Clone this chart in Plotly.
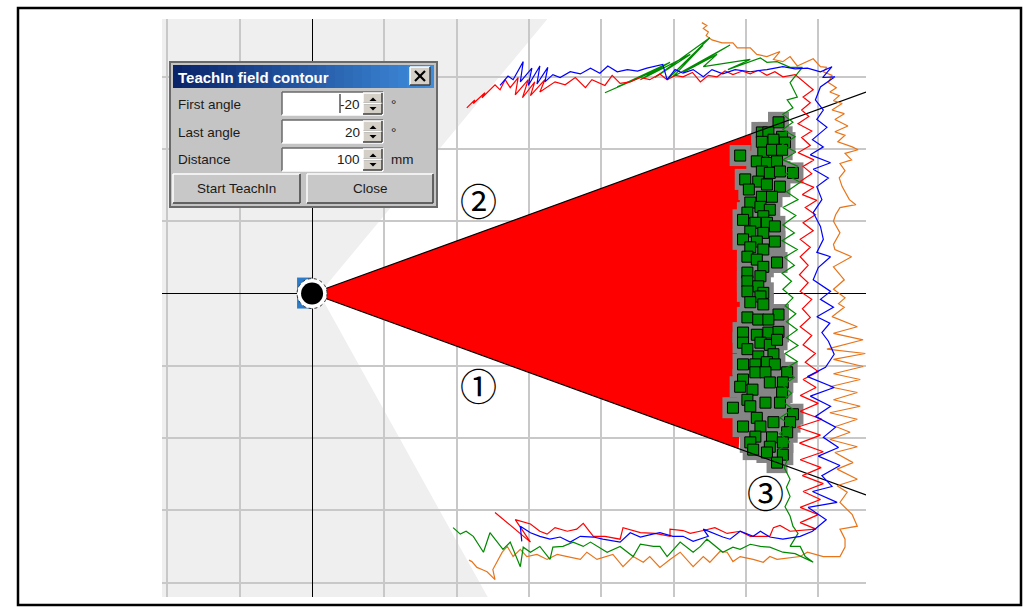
import math
import plotly.graph_objects as go

# ------------------------------------------------------------------
# DATA  (grid units: one grid cell = 1.0, scanner at the origin)
# ------------------------------------------------------------------
X_RANGE = [-2.075, 7.66]
Y_RANGE = [-4.2, 3.8]
GRID_STEP = 1.0

FIELD_APEX = (0.1, 0.0)            # apex of the scanner's field of view
FIELD_LIMITS_DEG = [50.3, -61.0]   # upper / lower limit of the field of view
TEACH_RAYS_DEG = [20.0, -20.0]     # first / last angle of the TeachIn
TEACH_DEPTH = [6.09, 6.0, 5.9]     # depth of the red field at +20, 0, -20 deg

RED_PTS = [
    (2.14, 2.57), (2.25, 2.68), (2.23, 2.63), (2.39, 2.78), (2.35, 2.71), (2.53, 2.89),
    (2.60, 2.82), (2.67, 2.96), (2.74, 2.85), (2.85, 2.99), (2.81, 2.75), (2.99, 2.96),
    (2.91, 2.71), (3.08, 2.93), (3.02, 2.74), (3.22, 2.96), (3.15, 2.79), (3.36, 2.93),
    (3.50, 2.89), (3.64, 2.99), (3.78, 2.85), (3.87, 2.96), (4.05, 2.88), (4.15, 3.02),
    (4.26, 2.91), (4.40, 2.93), (4.54, 2.99), (4.67, 2.96), (4.81, 3.04), (4.91, 2.96),
    (5.02, 3.02), (5.13, 3.00), (5.26, 3.06), (5.37, 2.93), (5.48, 3.02), (5.60, 3.00),
    (5.71, 3.08), (5.82, 3.03), (5.95, 3.08), (6.06, 3.04), (6.17, 3.09), (6.29, 3.02),
    (6.40, 3.07), (6.51, 3.00), (6.68, 3.03),
    (6.93, 2.82), (6.79, 2.72), (6.89, 2.64), (6.77, 2.54), (6.87, 2.45), (6.72, 2.35),
    (6.91, 2.25), (6.77, 2.16), (6.89, 2.05), (6.72, 1.95), (6.94, 1.85), (6.79, 1.76),
    (6.91, 1.66), (6.75, 1.55), (6.94, 1.47), (6.78, 1.37), (6.98, 1.29), (6.82, 1.19),
    (6.96, 1.09), (6.79, 0.98), (6.93, 0.87), (6.75, 0.75), (6.89, 0.64), (6.75, 0.51),
    (6.86, 0.39), (6.74, 0.26), (6.86, 0.15), (6.75, 0.03), (6.91, -0.08), (6.78, -0.21),
    (6.89, -0.33), (6.75, -0.46), (6.91, -0.58), (6.79, -0.71), (6.96, -0.83), (6.82, -0.95),
    (7.00, -1.08), (6.79, -1.19), (6.97, -1.30), (6.75, -1.41), (7.00, -1.52), (6.75, -1.63),
    (7.05, -1.74), (6.71, -1.85), (7.03, -1.96), (6.74, -2.07), (7.07, -2.19), (6.75, -2.30),
    (7.04, -2.41), (6.78, -2.52), (7.07, -2.63), (6.79, -2.74), (7.03, -2.85), (6.75, -2.96),
    (7.00, -3.06), (6.75, -3.17), (6.97, -3.26),
    (6.61, -3.29), (6.47, -3.21), (6.38, -3.24), (6.33, -3.36), (6.06, -3.36), (5.92, -3.29),
    (5.74, -3.32), (5.57, -3.24), (5.41, -3.28), (5.23, -3.32), (5.13, -3.28), (4.95, -3.26),
    (4.95, -3.36), (4.74, -3.32), (4.54, -3.31), (4.30, -3.24), (4.26, -3.40), (4.05, -3.36),
    (3.89, -3.36), (3.75, -3.18), (3.66, -3.26), (3.53, -3.29), (3.36, -3.24), (3.25, -3.33),
    (3.15, -3.29), (3.02, -3.19), (2.81, -3.13), (3.02, -3.44), (2.53, -3.03),
]

BLUE_PTS = [
    (2.60, 2.88), (2.71, 3.01), (2.78, 2.96), (2.92, 3.21), (2.88, 2.93), (3.04, 3.12),
    (2.99, 2.88), (3.15, 3.15), (3.11, 2.90), (3.26, 3.13), (3.22, 2.93), (3.33, 3.03),
    (3.43, 2.99), (3.57, 3.07), (3.71, 3.04), (3.85, 3.12), (3.98, 3.05), (4.09, 3.15),
    (4.22, 3.07), (4.36, 3.10), (4.50, 3.08), (4.63, 3.12), (4.85, 3.17), (4.91, 2.96),
    (5.02, 3.10), (5.13, 3.05), (5.27, 3.10), (5.41, 3.00), (5.53, 3.10), (5.68, 3.04),
    (5.85, 3.10), (6.06, 3.07), (6.29, 3.10), (6.51, 3.14), (6.68, 3.11), (6.85, 3.12),
    (7.03, 3.07), (7.19, 3.14), (7.06, 2.99), (7.23, 3.00),
    (7.03, 2.86), (6.96, 2.68), (7.07, 2.54), (6.98, 2.41), (7.12, 2.30), (6.92, 2.13),
    (7.07, 2.03), (6.89, 1.92), (7.17, 1.81), (6.93, 1.72), (7.14, 1.60), (6.98, 1.48),
    (7.05, 1.30), (6.93, 1.12), (7.03, 0.93), (7.07, 0.75), (6.98, 0.57), (7.17, 0.51),
    (7.00, 0.36), (6.93, 0.19), (7.17, 0.03), (7.03, -0.08), (7.21, -0.19), (6.98, -0.32),
    (7.16, -0.41), (7.05, -0.54), (7.14, -0.66), (7.22, -0.84), (7.10, -1.02), (6.85, -1.15),
    (7.22, -1.30), (6.89, -1.42), (7.17, -1.56), (6.96, -1.70), (7.24, -1.85), (7.07, -1.99),
    (7.28, -2.13), (7.00, -2.25), (7.30, -2.38), (7.05, -2.52), (7.19, -2.67), (6.92, -2.74),
    (7.26, -2.89), (6.86, -2.96), (7.11, -3.13), (6.92, -3.29), (6.75, -3.36),
    (6.51, -3.40), (6.33, -3.37), (6.20, -3.29), (6.10, -3.36), (5.92, -3.29), (5.78, -3.40),
    (5.68, -3.37), (5.41, -3.26), (5.48, -3.36), (5.27, -3.43), (5.13, -3.36), (4.99, -3.36),
    (4.81, -3.31), (4.71, -3.33), (4.54, -3.37), (4.40, -3.31), (4.26, -3.44), (4.02, -3.40),
    (3.89, -3.37), (3.71, -3.36), (3.57, -3.44), (3.43, -3.37), (3.29, -3.40), (3.15, -3.36),
    (3.02, -3.31), (2.88, -3.22), (2.90, -3.43),
]

GREEN_PTS = [
    (4.05, 2.78), (4.85, 3.13), (4.22, 2.86), (4.95, 3.20), (4.54, 2.96), (5.23, 3.31),
    (4.74, 2.99), (5.50, 3.54), (4.91, 2.96), (5.41, 3.44), (4.99, 3.00), (5.78, 3.44),
    (5.13, 3.06), (5.60, 3.31), (5.41, 3.14), (6.06, 3.24), (5.75, 3.10), (6.20, 3.26),
    (6.29, 3.20), (6.43, 3.21), (6.61, 3.13), (6.78, 3.13),
    (6.61, 2.92), (6.71, 2.72), (6.57, 2.68), (6.65, 2.57), (6.51, 2.48), (6.65, 2.37),
    (6.51, 2.27), (6.68, 2.17), (6.50, 2.06), (6.69, 1.96), (6.51, 1.85), (6.72, 1.76),
    (6.54, 1.65), (6.75, 1.54), (6.56, 1.41), (6.72, 1.30), (6.51, 1.19), (6.69, 1.08),
    (6.51, 0.95), (6.67, 0.84), (6.50, 0.73), (6.71, 0.61), (6.53, 0.50), (6.67, 0.39),
    (6.50, 0.28), (6.63, 0.17), (6.51, 0.06), (6.65, -0.06), (6.54, -0.17), (6.69, -0.28),
    (6.56, -0.39), (6.71, -0.50), (6.56, -0.61), (6.72, -0.72), (6.54, -0.83), (6.71, -0.94),
    (6.53, -1.05), (6.67, -1.16), (6.51, -1.27), (6.63, -1.38), (6.50, -1.49), (6.65, -1.60),
    (6.47, -1.72), (6.63, -1.83), (6.46, -1.94), (6.60, -2.05), (6.46, -2.16), (6.57, -2.30),
    (6.53, -2.41), (6.61, -2.57), (6.56, -2.68), (6.61, -2.81), (6.54, -2.95), (6.61, -3.08),
    (6.65, -3.22), (6.72, -3.32), (6.61, -3.50), (6.75, -3.50), (6.82, -3.64), (6.93, -3.72),
    (6.68, -3.60), (6.51, -3.58), (6.33, -3.51), (6.20, -3.50), (6.06, -3.47), (5.92, -3.54),
    (5.82, -3.51), (5.68, -3.58), (5.46, -3.40), (5.37, -3.50), (5.27, -3.58), (5.09, -3.44),
    (4.91, -3.64), (4.81, -3.50), (4.72, -3.50), (4.54, -3.47), (4.44, -3.64), (4.26, -3.50),
    (4.08, -3.58), (3.85, -3.44), (3.75, -3.50), (3.61, -3.44), (3.47, -3.50), (3.33, -3.51),
    (3.29, -3.68), (3.15, -3.50), (3.02, -3.58), (2.92, -3.51), (2.88, -3.78), (2.74, -3.44),
    (2.64, -3.54), (2.46, -3.31), (2.37, -3.58), (2.23, -3.36), (2.13, -3.29), (2.05, -3.33),
    (1.95, -3.24),
]

ORANGE_PTS = [
    (5.39, 3.75), (5.46, 3.71), (5.41, 3.67), (5.48, 3.62), (5.45, 3.57), (5.53, 3.51),
    (5.67, 3.47), (5.82, 3.47), (5.88, 3.40), (6.06, 3.40), (6.15, 3.31), (6.29, 3.28),
    (6.47, 3.35), (6.38, 3.24), (6.51, 3.21), (6.61, 3.28), (6.71, 3.15), (6.85, 3.21),
    (6.93, 3.25), (7.03, 3.14), (7.12, 3.13), (7.07, 3.07),
    (7.19, 3.02), (7.14, 2.92), (7.25, 2.85), (7.16, 2.79), (7.29, 2.74), (7.21, 2.67),
    (7.33, 2.63), (7.19, 2.54), (7.36, 2.49), (7.23, 2.41), (7.41, 2.32), (7.23, 2.24),
    (7.37, 2.19), (7.27, 2.10), (7.47, 2.03), (7.55, 1.99), (7.37, 1.94), (7.46, 1.85),
    (7.30, 1.80), (7.37, 1.70), (7.29, 1.60), (7.33, 1.48), (7.39, 1.38), (7.43, 1.30),
    (7.52, 1.23), (7.30, 1.19), (7.24, 1.09), (7.21, 1.00), (7.30, 0.84), (7.21, 0.68),
    (7.23, 0.61), (7.46, 0.51), (7.21, 0.37), (7.36, 0.19), (7.21, 0.06), (7.37, -0.06),
    (7.28, -0.14), (7.36, -0.19), (7.19, -0.32), (7.54, -0.46), (7.21, -0.55), (7.62, -0.64),
    (7.12, -0.77), (7.65, -0.83), (7.21, -0.91), (7.62, -1.01), (7.21, -1.11), (7.58, -1.19),
    (7.16, -1.29), (7.54, -1.37), (7.21, -1.47), (7.58, -1.56), (7.16, -1.65), (7.54, -1.74),
    (7.24, -1.84), (7.44, -1.92), (7.16, -2.02), (7.54, -2.12), (7.23, -2.20), (7.48, -2.34),
    (7.26, -2.43), (7.54, -2.57), (7.26, -2.66), (7.40, -2.75), (7.30, -2.89), (7.47, -3.06),
    (7.54, -3.22), (7.30, -3.26), (7.37, -3.40), (7.37, -3.51), (7.30, -3.64), (7.07, -3.64),
    (6.85, -3.58), (6.75, -3.64), (6.43, -3.68), (6.33, -3.64), (6.24, -3.72), (6.10, -3.68),
    (5.92, -3.64), (5.82, -3.71), (5.74, -3.58), (5.64, -3.57), (5.50, -3.72), (5.41, -3.64),
    (5.27, -3.78), (5.09, -3.58), (4.95, -3.68), (4.81, -3.79), (4.67, -3.64), (4.58, -3.72),
    (4.44, -3.64), (4.30, -3.78), (4.16, -3.61), (3.94, -3.68), (3.80, -3.58), (3.71, -3.68),
    (3.53, -3.64), (3.39, -3.61), (3.25, -3.68), (3.11, -3.61), (2.97, -3.64), (2.88, -3.54),
    (2.78, -3.64), (2.70, -3.50), (2.63, -3.58), (2.56, -3.71), (2.50, -3.82), (2.53, -3.96),
    (2.42, -3.85), (2.35, -3.82), (2.28, -3.79), (2.21, -3.71), (2.17, -3.69),
]

SQUARE_PTS = [
    (6.45, 2.37), (6.22, 2.23), (6.31, 2.23), (6.50, 2.17), (6.22, 2.10), (6.38, 2.13),
    (6.54, 2.09), (5.92, 1.91), (6.24, 1.95), (6.36, 1.99), (6.50, 1.99), (6.15, 1.83),
    (6.29, 1.81), (6.43, 1.83), (6.22, 1.69), (6.33, 1.67), (6.47, 1.69), (6.65, 1.67),
    (5.99, 1.58), (6.17, 1.55), (6.29, 1.51), (6.47, 1.48), (6.04, 1.44), (6.22, 1.34),
    (6.36, 1.34), (6.06, 1.26), (6.20, 1.20), (6.33, 1.16), (6.02, 1.12), (6.24, 1.07),
    (5.96, 1.02), (6.13, 0.98), (6.29, 0.98), (6.40, 0.93), (6.06, 0.86), (6.24, 0.84),
    (5.96, 0.75), (6.15, 0.72), (6.40, 0.72), (6.06, 0.64), (6.24, 0.61), (6.02, 0.51),
    (6.15, 0.47), (6.43, 0.43), (6.24, 0.37), (6.02, 0.29), (6.20, 0.24), (6.02, 0.17),
    (6.17, 0.10), (6.02, 0.03), (6.24, 0.01), (6.20, -0.04), (6.06, -0.12), (6.24, -0.15),
    (6.45, -0.29), (6.02, -0.33), (6.17, -0.36), (6.31, -0.36), (5.96, -0.54), (6.15, -0.57),
    (6.31, -0.54), (6.45, -0.53), (5.96, -0.68), (6.20, -0.68), (6.33, -0.71), (6.43, -0.64),
    (6.02, -0.77), (6.17, -0.87), (6.38, -0.84), (5.96, -0.98), (6.13, -0.98), (6.29, -0.95),
    (6.40, -0.98), (6.57, -1.09), (5.96, -1.19), (6.13, -1.09), (6.27, -1.09), (6.33, -1.23),
    (6.51, -1.23), (5.92, -1.29), (6.09, -1.33), (6.50, -1.37), (6.02, -1.47), (6.27, -1.51),
    (6.47, -1.51), (5.82, -1.58), (6.06, -1.56), (6.65, -1.67), (6.15, -1.72), (6.38, -1.78),
    (6.61, -1.78), (5.96, -1.84), (6.20, -1.84), (6.13, -1.98), (6.36, -1.99), (6.57, -1.92),
    (6.06, -2.06), (6.33, -2.12), (6.51, -2.06), (6.10, -2.16), (6.29, -2.20), (6.51, -2.23),
    (6.43, -2.34),
]

CALLOUT_TEXT = ["\u2460", "\u2461", "\u2462"]
CALLOUT_POS = [(2.30, -1.26), (2.30, 1.29), (6.27, -2.74)]

DIALOG_TITLE = "TeachIn field contour"
FIELD_LABELS = ["First angle", "Last angle", "Distance"]
FIELD_VALUES = ["-20", "20", "100"]
FIELD_UNITS = ["\u00b0", "\u00b0", "mm"]
BUTTON_LABELS = ["Start TeachIn", "Close"]

# ------------------------------------------------------------------
# FIGURE
# ------------------------------------------------------------------
W, H = 1028, 609
ML, MR, MT, MB = 162, 162, 19, 12
PW, PH = W - ML - MR, H - MT - MB


def px(x):
    return (x - ML) / PW


def py(y):
    return (H - MB - y) / PH


fig = go.Figure()
shapes = []
annots = []

# field of view (grey area outside it) - below grid
ax0, ay0 = FIELD_APEX
up = math.radians(FIELD_LIMITS_DEG[0])
lo = math.radians(FIELD_LIMITS_DEG[1])
x_top = ax0 + (Y_RANGE[1] - ay0) / math.tan(up)
x_bot = ax0 + (Y_RANGE[0] - ay0) / math.tan(lo)
path = (f"M {X_RANGE[0]},{Y_RANGE[1]} L {x_top},{Y_RANGE[1]} L {ax0},{ay0} "
        f"L {x_bot},{Y_RANGE[0]} L {X_RANGE[0]},{Y_RANGE[0]} Z")
shapes.append(dict(type="path", path=path, xref="x", yref="y", layer="below",
                   fillcolor="#efefef", line=dict(width=0)))

# red TeachIn field
t20 = math.tan(math.radians(TEACH_RAYS_DEG[0]))
tm20 = math.tan(math.radians(TEACH_RAYS_DEG[1]))
fx = [0, TEACH_DEPTH[0], TEACH_DEPTH[1], TEACH_DEPTH[2], 0]
fy = [0, TEACH_DEPTH[0] * t20, 0, TEACH_DEPTH[2] * tm20, 0]
fig.add_trace(go.Scatter(x=fx, y=fy, mode="lines", fill="toself", fillcolor="#ff0000",
                         line=dict(width=0, color="#ff0000"), hoverinfo="skip"))

# teach points: grey halo and green squares
sx = [p[0] for p in SQUARE_PTS]
sy = [p[1] for p in SQUARE_PTS]
fig.add_trace(go.Scatter(x=sx, y=sy, mode="markers", hoverinfo="skip",
                         marker=dict(symbol="square", size=21, color="#858585",
                                     line=dict(width=0))))
fig.add_trace(go.Scatter(x=sx, y=sy, mode="markers", hoverinfo="skip",
                         marker=dict(symbol="square", size=11, color="#008c00",
                                     line=dict(width=1, color="#000000"))))

# rays of first / last angle
for a in TEACH_RAYS_DEG:
    t = math.tan(math.radians(a))
    fig.add_trace(go.Scatter(x=[0, X_RANGE[1]], y=[0, X_RANGE[1] * t], mode="lines",
                             line=dict(color="#000000", width=1.2), hoverinfo="skip"))

# contours
for pts, col in [(ORANGE_PTS, "#e8751a"), (GREEN_PTS, "#008a00"),
                 (RED_PTS, "#ff0000"), (BLUE_PTS, "#0000ff")]:
    fig.add_trace(go.Scatter(x=[p[0] for p in pts], y=[p[1] for p in pts], mode="lines",
                             line=dict(color=col, width=1.2), hoverinfo="skip"))

# scanner symbol at the origin
shapes.append(dict(type="rect", xref="x", yref="y", xsizemode="pixel", ysizemode="pixel",
                   xanchor=0, yanchor=0, x0=-15, x1=0, y0=-15, y1=16,
                   fillcolor="#2b7bcb", line=dict(width=0), layer="above"))
shapes.append(dict(type="circle", xref="x", yref="y", xsizemode="pixel", ysizemode="pixel",
                   xanchor=0, yanchor=0, x0=-15, x1=15, y0=-15, y1=15,
                   fillcolor="#ffffff", line=dict(width=1, color="#333333", dash="dot"),
                   layer="above"))
shapes.append(dict(type="circle", xref="x", yref="y", xsizemode="pixel", ysizemode="pixel",
                   xanchor=0, yanchor=0, x0=-11, x1=11, y0=-11, y1=11,
                   fillcolor="#000000", line=dict(width=0), layer="above"))

# callout numbers
for txt, (cx, cy) in zip(CALLOUT_TEXT, CALLOUT_POS):
    annots.append(dict(x=cx, y=cy, xref="x", yref="y", text=txt, showarrow=False,
                       font=dict(family="Noto Sans CJK JP, DejaVu Sans", size=37,
                                 color="#000000")))


# ---------------- dialog (UI chrome, pixel layout) ----------------
def rect(x0, y0, x1, y1, fill, line=None, lw=0):
    shapes.append(dict(type="rect", xref="paper", yref="paper",
                       x0=px(x0), x1=px(x1), y0=py(y1), y1=py(y0),
                       fillcolor=fill, line=dict(color=line or fill, width=lw),
                       layer="above"))


def seg(x0, y0, x1, y1, color, w=1):
    shapes.append(dict(type="line", xref="paper", yref="paper",
                       x0=px(x0), x1=px(x1), y0=py(y0), y1=py(y1),
                       line=dict(color=color, width=w), layer="above"))


def bevel(x0, y0, x1, y1, raised=True):
    lt, dk = ("#ffffff", "#404040") if raised else ("#6a6a6a", "#ffffff")
    seg(x0, y0, x1, y0, lt, 1.5)
    seg(x0, y0, x0, y1, lt, 1.5)
    seg(x0, y1, x1, y1, dk, 1.5)
    seg(x1, y0, x1, y1, dk, 1.5)


def text(x, y, s, size=13.5, anchor="left", bold=False, color="#1a1a1a"):
    annots.append(dict(x=px(x), y=py(y), xref="paper", yref="paper", text=s,
                       showarrow=False, xanchor=anchor, yanchor="middle",
                       font=dict(family="Liberation Sans, Arial, sans-serif",
                                 size=size, color=color,
                                 weight="bold" if bold else "normal")))


rect(170, 62, 437, 207, "#c4c4c4", "#6a6a6a", 2)
# title bar gradient
n = 29
c0, c1 = (10, 36, 106), (62, 140, 220)
x_left, x_right = 173, 434
for i in range(n):
    f = i / (n - 1)
    col = "rgb(%d,%d,%d)" % tuple(round(a + (b - a) * f) for a, b in zip(c0, c1))
    xa = x_left + (x_right - x_left) * i / n
    xb = x_left + (x_right - x_left) * (i + 1) / n + 0.6
    rect(xa, 65, min(xb, x_right), 88, col)
text(176, 77, DIALOG_TITLE, size=15, bold=True, color="#ffffff")
# close button
rect(410, 67, 430, 85, "#d4d0c8")
bevel(410, 67, 430, 85)
seg(415, 71, 425, 81, "#000000", 2.2)
seg(425, 71, 415, 81, "#000000", 2.2)

row_y = [104, 132, 160]
for i, (lab, val, unit) in enumerate(zip(FIELD_LABELS, FIELD_VALUES, FIELD_UNITS)):
    yc = row_y[i]
    top, bot = yc - 12, yc + 11
    text(176, yc, lab)
    rect(282, top, 363, bot, "#ffffff")
    bevel(282, top, 383, bot, raised=False)
    text(362, yc, val, anchor="right")
    # spinner
    rect(363, top + 1, 382, bot - 1, "#d4d0c8")
    bevel(363, top + 1, 382, (top + bot) / 2)
    bevel(363, (top + bot) / 2, 382, bot - 1)
    mid_u = top + 7
    mid_d = bot - 6
    shapes.append(dict(type="path", xref="paper", yref="paper", layer="above",
                       path=f"M {px(369.5)},{py(mid_u + 2)} L {px(376.5)},{py(mid_u + 2)} "
                            f"L {px(373)},{py(mid_u - 1.5)} Z",
                       fillcolor="#000000", line=dict(width=0)))
    shapes.append(dict(type="path", xref="paper", yref="paper", layer="above",
                       path=f"M {px(369.5)},{py(mid_d - 2)} L {px(376.5)},{py(mid_d - 2)} "
                            f"L {px(373)},{py(mid_d + 1.5)} Z",
                       fillcolor="#000000", line=dict(width=0)))
    text(389, yc, unit)
# text cursor in the first box
seg(340, 94, 340, 113, "#000000", 1)

btn_x = [(173, 300), (307, 433)]
for lab, (bx0, bx1) in zip(BUTTON_LABELS, btn_x):
    rect(bx0, 174, bx1, 203, "#c8c8c8")
    bevel(bx0, 174, bx1, 203)
    text((bx0 + bx1) / 2, 189, lab, anchor="center")

# outer frame of the picture
shapes.append(dict(type="rect", xref="paper", yref="paper",
                   x0=px(18), x1=px(1021), y0=py(605), y1=py(8),
                   line=dict(color="#000000", width=2.5), fillcolor="rgba(0,0,0,0)",
                   layer="above"))

axis_common = dict(showgrid=True, dtick=GRID_STEP, tick0=0, gridcolor="#c8c8c8",
                   gridwidth=1.5, zeroline=True, zerolinecolor="#000000",
                   zerolinewidth=1.4, showticklabels=False, ticks="", showline=False,
                   fixedrange=True)

fig.update_layout(
    width=W, height=H,
    margin=dict(l=ML, r=MR, t=MT, b=MB, pad=0, autoexpand=False),
    paper_bgcolor="#ffffff", plot_bgcolor="#ffffff",
    showlegend=False,
    xaxis=dict(range=X_RANGE, **axis_common),
    yaxis=dict(range=Y_RANGE, **axis_common),
    shapes=shapes, annotations=annots,
)

fig.write_html(
    "out.html",
    config={"displayModeBar": False},
    post_script="document.body.style.margin='0';document.body.style.overflow='hidden';",
)
